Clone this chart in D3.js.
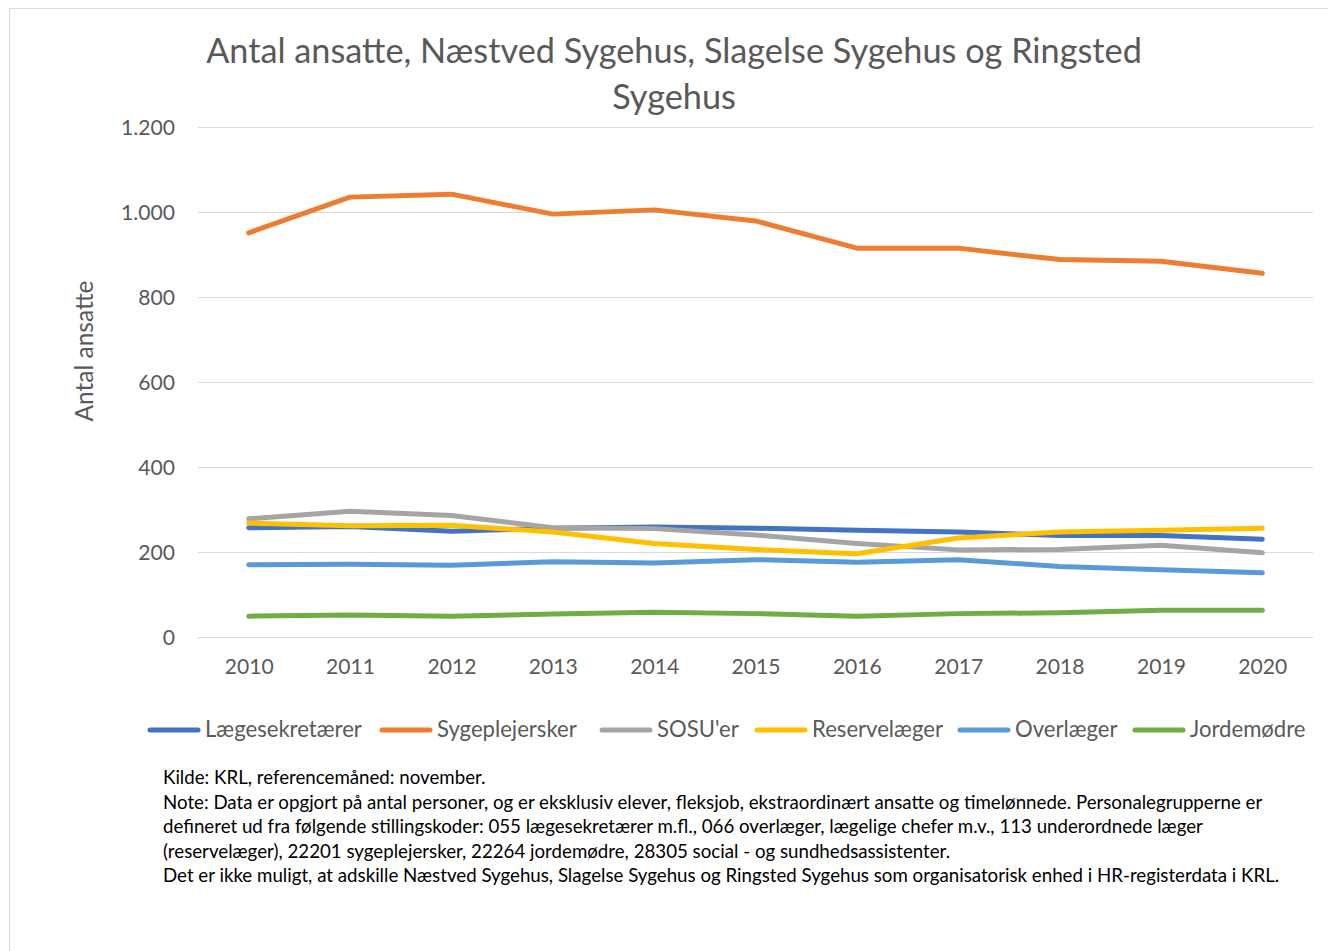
<!DOCTYPE html>
<html>
<head>
<meta charset="utf-8">
<script src="https://cdn.jsdelivr.net/npm/d3@7"></script>
<style>
  body { margin: 0; background: #fff; }
  text { font-family: Lato, "Open Sans", sans-serif; }
</style>
</head>
<body>
<div id="chart"></div>
<script>
var years = ["2010", "2011", "2012", "2013", "2014", "2015", "2016", "2017", "2018", "2019", "2020"];
var laegesekretaerer = [257, 260, 249, 256, 259, 256, 251, 247, 239, 239, 230];
var sygeplejersker = [951, 1035, 1042, 995, 1005, 979, 915, 915, 888, 884, 856];
var sosuer = [278, 296, 286, 257, 255, 240, 220, 205, 206, 216, 198];
var reservelaeger = [268, 262, 263, 247, 220, 206, 196, 233, 247, 251, 256];
var overlaeger = [170, 171, 169, 177, 174, 182, 176, 182, 166, 158, 151];
var jordemoedre = [49, 52, 49, 54, 58, 55, 49, 55, 57, 63, 63];
var seriesNames = ["Lægesekretærer", "Sygeplejersker", "SOSU'er", "Reservelæger", "Overlæger", "Jordemødre"];
var yTicks = [0, 200, 400, 600, 800, 1000, 1200];
var notes = [
  "Kilde: KRL, referencemåned: november.",
  "Note: Data er opgjort på antal personer, og er eksklusiv elever, fleksjob, ekstraordinært ansatte og timelønnede. Personalegrupperne er",
  "defineret ud fra følgende stillingskoder: 055 lægesekretærer m.fl., 066 overlæger, lægelige chefer m.v., 113 underordnede læger",
  "(reservelæger), 22201 sygeplejersker, 22264 jordemødre, 28305 social - og sundhedsassistenter.",
  "Det er ikke muligt, at adskille Næstved Sygehus, Slagelse Sygehus og Ringsted Sygehus som organisatorisk enhed i HR-registerdata i KRL."
];

var colors = ["#4472C4", "#ED7D31", "#A5A5A5", "#FFC000", "#5B9BD5", "#70AD47"];
var allSeries = [laegesekretaerer, sygeplejersker, sosuer, reservelaeger, overlaeger, jordemoedre];

var svgWidth = 1328;
var svgHeight = 951;
var textColor = "#595959";

var svg = d3.select("#chart")
  .append("svg")
  .attr("width", svgWidth)
  .attr("height", svgHeight);

// chart border
svg.append("rect")
  .attr("x", 9.5)
  .attr("y", 8.5)
  .attr("width", 1330)
  .attr("height", 960)
  .attr("fill", "#fff")
  .attr("stroke", "#d9d9d9")
  .attr("stroke-width", 1);

// scale a text's font so its width matches the picture
function fitText(sel, targetWidth) {
  var w = sel.node().getComputedTextLength();
  var fs = parseFloat(sel.attr("font-size"));
  sel.attr("font-size", (fs * targetWidth / w).toFixed(2));
  return fs * targetWidth / w;
}

var plot = { left: 198, right: 1313, top: 127, bottom: 637 };

var x = d3.scalePoint()
  .domain(years)
  .range([plot.left, plot.right])
  .padding(0.5);

var y = d3.scaleLinear()
  .domain([0, 1200])
  .range([plot.bottom, plot.top]);

// title
var t1 = svg.append("text")
  .attr("x", 674).attr("y", 63)
  .attr("text-anchor", "middle")
  .attr("font-size", 30)
  .attr("fill", textColor)
  .text("Antal ansatte, Næstved Sygehus, Slagelse Sygehus og Ringsted");
var titleSize = fitText(t1, 936);
svg.append("text")
  .attr("x", 674).attr("y", 109)
  .attr("text-anchor", "middle")
  .attr("font-size", titleSize)
  .attr("fill", textColor)
  .text("Sygehus");

// gridlines
svg.append("g")
  .selectAll("line")
  .data(yTicks)
  .enter()
  .append("line")
  .attr("x1", plot.left)
  .attr("x2", plot.right)
  .attr("y1", d => Math.round(y(d)) + 0.5)
  .attr("y2", d => Math.round(y(d)) + 0.5)
  .attr("stroke", "#d9d9d9")
  .attr("stroke-width", 1);

// y axis labels
var leftAxis = d3.axisLeft(y)
  .tickValues(yTicks)
  .tickSize(0)
  .tickPadding(0)
  .tickFormat(d => d3.format(",")(d).replace(/,/g, "."));

var yAxisG = svg.append("g")
  .attr("transform", "translate(175,0)")
  .call(leftAxis);
yAxisG.select(".domain").remove();
yAxisG.selectAll("text")
  .attr("font-family", "Lato, sans-serif")
  .attr("font-size", 20)
  .attr("fill", textColor)
  .attr("dy", "0.35em");
var tickSize = fitText(yAxisG.selectAll("text").filter(d => d === 1200), 54);
yAxisG.selectAll("text").attr("font-size", tickSize);

// x axis labels
var bottomAxis = d3.axisBottom(x).tickSize(0).tickPadding(0);
var xAxisG = svg.append("g")
  .attr("transform", "translate(0,659)")
  .call(bottomAxis);
xAxisG.select(".domain").remove();
xAxisG.selectAll("text")
  .attr("font-family", "Lato, sans-serif")
  .attr("font-size", tickSize)
  .attr("fill", textColor)
  .attr("dy", "0.71em");

// y axis title
var yTitle = svg.append("text")
  .attr("transform", "translate(93, 351) rotate(-90)")
  .attr("text-anchor", "middle")
  .attr("font-size", 22)
  .attr("fill", textColor)
  .text("Antal ansatte");
fitText(yTitle, 141);

// lines
var line = d3.line()
  .x((d, i) => x(years[i]))
  .y(d => y(d));

svg.append("g")
  .selectAll("path")
  .data(allSeries)
  .enter()
  .append("path")
  .attr("d", d => line(d))
  .attr("fill", "none")
  .attr("stroke", (d, i) => colors[i])
  .attr("stroke-width", 5)
  .attr("stroke-linecap", "round")
  .attr("stroke-linejoin", "round");

// legend
var legendX = [148, 380, 600, 755, 958, 1133];
var legend = svg.append("g");
seriesNames.forEach(function(name, i) {
  legend.append("line")
    .attr("x1", legendX[i] + 2)
    .attr("x2", legendX[i] + 50)
    .attr("y1", 730)
    .attr("y2", 730)
    .attr("stroke", colors[i])
    .attr("stroke-width", 5)
    .attr("stroke-linecap", "round");
  legend.append("text")
    .attr("class", "legendText")
    .attr("x", legendX[i] + 57)
    .attr("y", 737)
    .attr("font-size", 20)
    .attr("fill", textColor)
    .text(name);
});
var legendSize = fitText(legend.select(".legendText"), 157);
legend.selectAll(".legendText").attr("font-size", legendSize);

// notes
var noteG = svg.append("g");
notes.forEach(function(n, i) {
  noteG.append("text")
    .attr("class", "note")
    .attr("x", 163)
    .attr("y", 784 + i * 24.6)
    .attr("font-size", 16)
    .attr("fill", "#000")
    .text(n);
});
var noteSize = fitText(noteG.selectAll(".note").filter((d, i) => i === 1), 1100);
noteG.selectAll(".note").attr("font-size", noteSize);
</script>
</body>
</html>
